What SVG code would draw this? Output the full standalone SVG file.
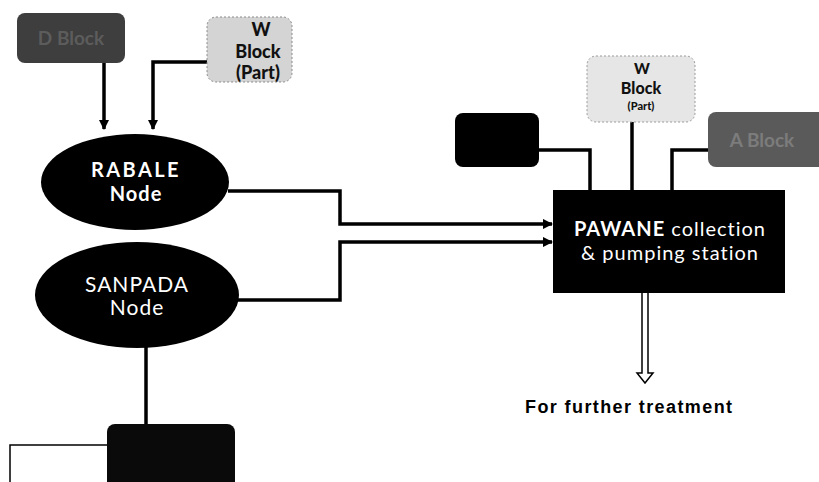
<svg xmlns="http://www.w3.org/2000/svg" width="819" height="482" viewBox="0 0 819 482">
<defs>
<style>
.conn{fill:none;stroke:#000;stroke-width:3.5}
.thin{fill:none;stroke:#000;stroke-width:1.5}
.wt{font-family:Lato,"Open Sans",sans-serif;fill:#fff}
.bt{font-family:Lato,"Open Sans",sans-serif;fill:#111;font-weight:900}
</style>
<marker id="ah" viewBox="0 0 10 10" refX="9" refY="5" markerWidth="3" markerHeight="3" orient="auto">
<path d="M0,0 L10,5 L0,10 z" fill="#000"/>
</marker>
</defs>
<rect width="819" height="482" fill="#fff"/>
<g id="connectors">
<path class="conn" d="M104,63 V129" marker-end="url(#ah)"/>
<path class="conn" d="M207,62 H153 V129" marker-end="url(#ah)"/>
<path class="conn" d="M228,191 H340 V224 H552" marker-end="url(#ah)"/>
<path class="conn" d="M236,300 H340 V242 H552" marker-end="url(#ah)"/>
<path class="conn" d="M538,150 H590 V190"/>
<path class="conn" d="M632,122 V190"/>
<path class="conn" d="M710,150 H672 V190"/>
<path class="conn" d="M146,347 V425"/>
<path class="thin" d="M107,445 H10 V482"/>
<path d="M642,293 V373 H637 L645,383 L653,373 H648 V293" fill="#fff" stroke="#000" stroke-width="1.5"/>
</g>
<g id="d-block">
<rect x="17" y="13" width="108" height="50" rx="8" fill="#3e3e3e"/>
<text x="71" y="45" text-anchor="middle" font-family="Lato,sans-serif" font-weight="bold" font-size="19" fill="#5c5c5c">D Block</text>
</g>
<g id="w-block-left">
<rect x="207" y="17" width="85" height="65" rx="9" fill="#d4d4d4" stroke="#8a8a8a" stroke-dasharray="2 2"/>
<text class="bt" x="261" y="36" text-anchor="middle" font-size="18">W</text>
<text class="bt" x="258" y="58" text-anchor="middle" font-size="18">Block</text>
<text class="bt" x="258" y="79" text-anchor="middle" font-size="18">(Part)</text>
</g>
<g id="rabale">
<ellipse cx="135" cy="182" rx="94" ry="48" fill="#000"/>
<text class="wt" x="136" y="177" text-anchor="middle" font-size="20" font-weight="bold" letter-spacing="2.4">RABALE</text>
<text class="wt" x="136" y="201" text-anchor="middle" font-size="20" font-weight="bold" letter-spacing="1">Node</text>
</g>
<g id="sanpada">
<ellipse cx="137" cy="295" rx="102" ry="53" fill="#000"/>
<text class="wt" x="137" y="292" text-anchor="middle" font-size="21" letter-spacing="1">SANPADA</text>
<text class="wt" x="137" y="315" text-anchor="middle" font-size="21" letter-spacing="1">Node</text>
</g>
<g id="bottom-block">
<rect x="107" y="424" width="128" height="70" rx="8" fill="#0a0a0a"/>
</g>
<g id="black-block">
<rect x="455" y="113" width="84" height="54" rx="8" fill="#000"/>
</g>
<g id="w-block-right">
<rect x="587" y="56" width="108" height="66" rx="9" fill="#e6e6e6" stroke="#9a9a9a" stroke-dasharray="2 2"/>
<text class="bt" x="642" y="74" text-anchor="middle" font-size="15">W</text>
<text class="bt" x="641" y="94" text-anchor="middle" font-size="16">Block</text>
<text class="bt" x="641" y="110" text-anchor="middle" font-size="11">(Part)</text>
</g>
<g id="a-block">
<rect x="708" y="112" width="120" height="55" rx="8" fill="#5a5a5a"/>
<text x="762" y="147" text-anchor="middle" font-family="Lato,sans-serif" font-weight="bold" font-size="19" fill="#7c7c7c">A Block</text>
</g>
<g id="pawane">
<rect x="553" y="190" width="232" height="103" fill="#000"/>
<text class="wt" x="670" y="236" text-anchor="middle" font-size="20" letter-spacing="1"><tspan font-weight="bold">PAWANE</tspan> collection</text>
<text class="wt" x="670" y="260" text-anchor="middle" font-size="20" letter-spacing="1">&amp; pumping station</text>
</g>
<g id="label-treatment">
<text x="525" y="413" font-family="Liberation Sans,Arial,sans-serif" font-weight="bold" font-size="18" letter-spacing="1.4">For further treatment</text>
</g>
</svg>
